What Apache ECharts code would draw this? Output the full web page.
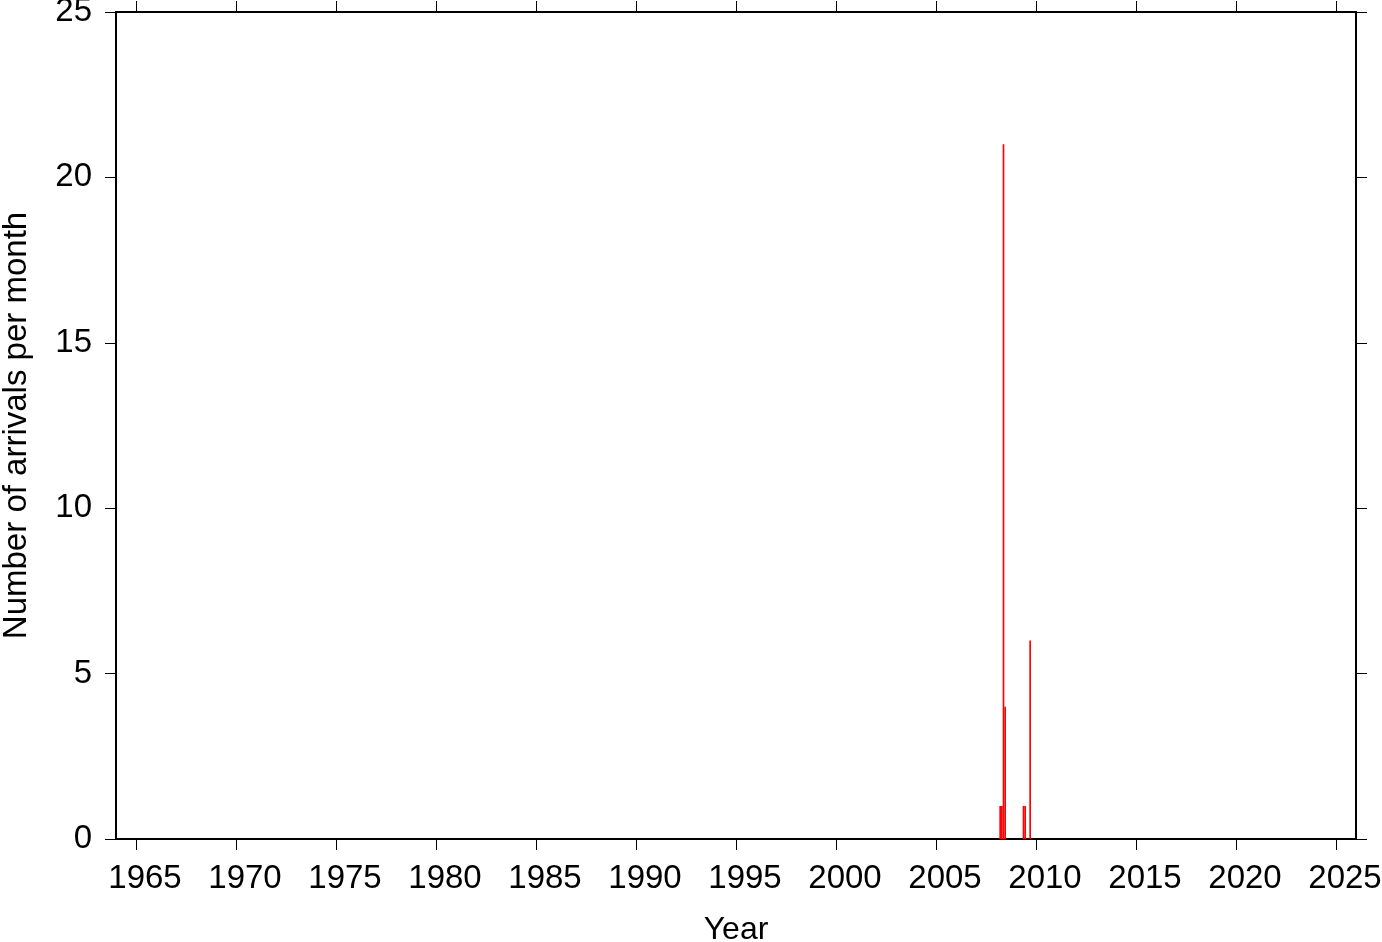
<!DOCTYPE html>
<html>
<head>
<meta charset="utf-8">
<script src="https://cdn.jsdelivr.net/npm/echarts@6/dist/echarts.min.js"></script>
<style>html,body{margin:0;padding:0;background:#fff}#c{width:1382px;height:942px}</style>
</head>
<body>
<div id="c"></div>
<script>
// Monthly arrivals: [year, month (1-12), count]
const months = [
  [2008, 3, 1],
  [2008, 4, 1],
  [2008, 5, 21],
  [2008, 6, 4],
  [2009, 5, 1],
  [2009, 6, 1],
  [2009, 9, 6]
];
const xTicks = [1965, 1970, 1975, 1980, 1985, 1990, 1995, 2000, 2005, 2010, 2015, 2020, 2025];
const yTicks = [0, 5, 10, 15, 20, 25];

const FONT = '"Liberation Sans", Arial, Helvetica, sans-serif';
const data = months.map(m => [m[0] + (m[1] - 1) / 12, m[0] + m[1] / 12, m[2]]);

const chart = echarts.init(document.getElementById('c'), null, {renderer: 'canvas'});
const axisLine = {show: true, onZero: false, lineStyle: {color: '#000', width: 2}};
const tick = {show: true, inside: false, length: 11, lineStyle: {color: '#000', width: 1}};
chart.setOption({
  animation: false,
  backgroundColor: '#fff',
  grid: {left: 116, right: 26, top: 12, bottom: 103, containLabel: false, outerBoundsMode: 'none'},
  xAxis: [{
    type: 'value', min: 1964, max: 2026, position: 'bottom',
    name: 'Year', nameLocation: 'middle', nameGap: 75,
    nameTextStyle: {fontFamily: FONT, fontSize: 32, color: '#000'},
    axisLine: axisLine,
    axisTick: Object.assign({}, tick, {customValues: xTicks}),
    axisLabel: {customValues: xTicks, formatter: v => String(v), fontFamily: FONT, fontSize: 33, color: '#000', margin: 23, padding: [0, 0, 0, 18]},
    splitLine: {show: false}
  }, {
    type: 'value', min: 1964, max: 2026, position: 'top',
    axisLine: axisLine,
    axisTick: Object.assign({}, tick, {customValues: xTicks}),
    axisLabel: {show: false},
    splitLine: {show: false}
  }],
  yAxis: [{
    type: 'value', min: 0, max: 25, interval: 5, position: 'left',
    name: 'Number of arrivals per month', nameLocation: 'middle', nameGap: 83,
    nameTextStyle: {fontFamily: FONT, fontSize: 33, color: '#000'},
    axisLine: axisLine,
    axisTick: Object.assign({}, tick, {customValues: yTicks}),
    axisLabel: {customValues: yTicks, formatter: v => String(v), fontFamily: FONT, fontSize: 33, color: '#000', margin: 24, padding: [5, 0, 0, 0]},
    splitLine: {show: false}
  }, {
    type: 'value', min: 0, max: 25, interval: 5, position: 'right',
    axisLine: axisLine,
    axisTick: Object.assign({}, tick, {customValues: yTicks}),
    axisLabel: {show: false},
    splitLine: {show: false}
  }],
  series: [{
    type: 'custom',
    xAxisIndex: 0, yAxisIndex: 0,
    data: data,
    encode: {x: [0, 1], y: 2},
    renderItem: function (params, api) {
      const p0 = api.coord([api.value(0), 0]);
      const p1 = api.coord([api.value(1), api.value(2)]);
      return {
        type: 'rect',
        shape: {x: p0[0], y: p1[1], width: Math.max(p1[0] - p0[0], 1), height: p0[1] - p1[1]},
        style: {fill: '#ff0000'}
      };
    }
  }]
});
</script>
</body>
</html>
